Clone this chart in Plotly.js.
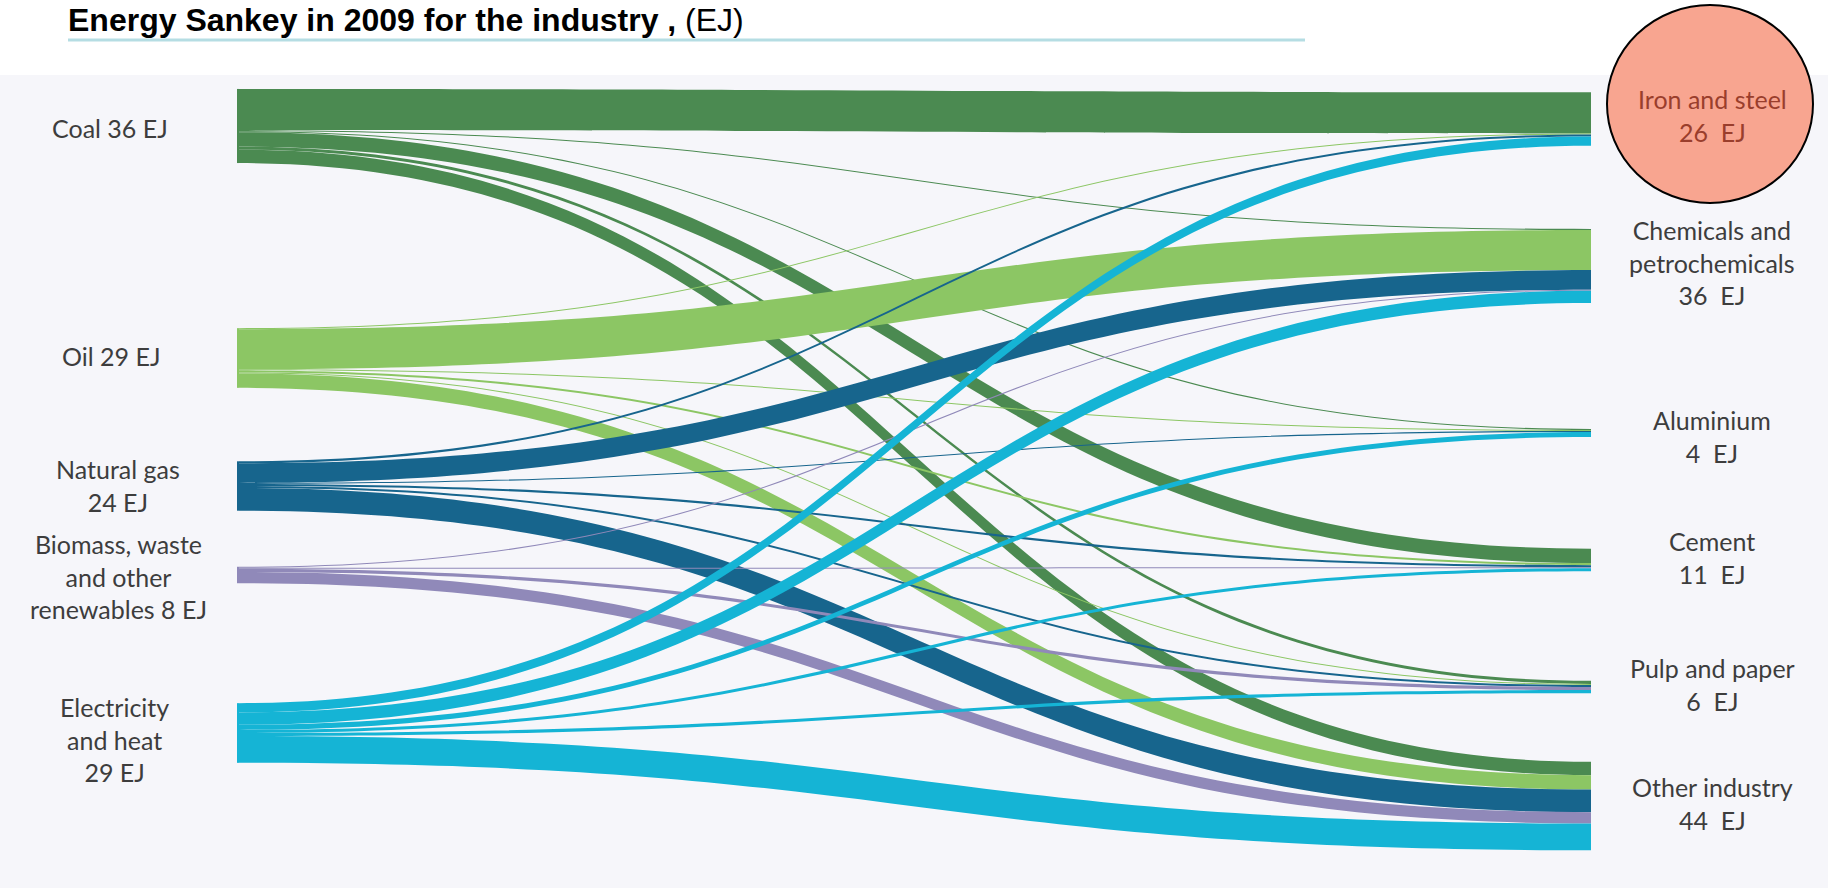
<!DOCTYPE html>
<html><head><meta charset="utf-8">
<script src="https://cdn.plot.ly/plotly-3.0.1.min.js"></script>
<style>html,body{margin:0;padding:0;background:#fff;}#chart{width:1828px;height:888px;}</style>
</head><body><div id="chart"></div>
<script>
// ---------- data ----------
const sources = ['Coal', 'Oil', 'Natural gas', 'Biomass, waste and other renewables', 'Electricity and heat'];
const sourceTotals = [36, 29, 24, 8, 29];
const sourceLabels = ['Coal 36 EJ', 'Oil 29 EJ', 'Natural gas<br>24 EJ', 'Biomass, waste<br>and other<br>renewables 8 EJ', 'Electricity<br>and heat<br>29 EJ'];
const targets = ['Iron and steel', 'Chemicals and petrochemicals', 'Aluminium', 'Cement', 'Pulp and paper', 'Other industry'];
const targetTotals = [26, 36, 4, 11, 6, 44];
const targetLabels = ['Iron and steel<br>26\u00a0 EJ', 'Chemicals and<br>petrochemicals<br>36\u00a0 EJ', 'Aluminium<br>4\u00a0 EJ', 'Cement<br>11\u00a0 EJ', 'Pulp and paper<br>6\u00a0 EJ', 'Other industry<br>44\u00a0 EJ'];
// flows (EJ) from each source to targets, in target order
const coalFlows        = [20, 0.5, 0.5, 7, 1.5, 6.5];
const oilFlows         = [0.5, 19.5, 0.5, 1, 0.5, 7];
const gasFlows         = [1, 9.5, 0.5, 1, 1, 11];
const biomassFlows     = [0, 0.5, 0, 0.5, 1.5, 5.5];
const electricityFlows = [4.5, 6, 2.5, 1.5, 1.5, 13];
const titleText = '<b>Energy Sankey in 2009 for the industry ,</b> (EJ)';

// ---------- styles / layout ----------
const sourceColors = ['#4b8a51', '#8cc664', '#17658d', '#9089b9', '#15b4d5'];
const W = 1828, H = 888;
const M = {l: 237, r: 235, t: 80, b: 30};
const PW = W - M.l - M.r, PH = H - M.t - M.b;
const px2x = p => (p - M.l) / PW;
const py2y = p => 1 - (p - M.t) / PH;
const nodeThick = 2;
const srcCenterPx = [126, 358, 486, 575, 733];
const tgtCenterPx = [119, 266, 433, 560, 687, 806];
const srcLabelPx = [[110, 128], [111, 356], [118, 485], [118, 576], [115, 739]];
const tgtLabelPx = [[1712, 115], [1712, 262], [1712, 436], [1712, 557], [1712, 684], [1712, 803]];

const flowRows = [coalFlows, oilFlows, gasFlows, biomassFlows, electricityFlows];
const linkSrc = [], linkTgt = [], linkVal = [], linkCol = [];
flowRows.forEach((row, i) => {
  row.forEach((v, j) => {
    if (v > 0) {
      linkSrc.push(i); linkTgt.push(sources.length + j); linkVal.push(v); linkCol.push(sourceColors[i]);
    }
  });
});

const nodeNames = sources.concat(targets);
const nodeX = sources.map(() => (nodeThick / 2) / PW).concat(targets.map(() => 1 - (nodeThick / 2) / PW));
const nodeY = srcCenterPx.concat(tgtCenterPx).map(c => (c - M.t) / PH);
const nodeColors = sourceColors.concat(targets.map(() => 'rgba(0,0,0,0)'));

const trace = {
  type: 'sankey',
  arrangement: 'fixed',
  domain: {x: [0, 1], y: [0, 1]},
  node: {
    label: nodeNames.map(() => ''),
    customdata: nodeNames,
    hovertemplate: '%{customdata}: %{value} EJ<extra></extra>',
    x: nodeX,
    y: nodeY,
    pad: 106,
    thickness: nodeThick,
    color: nodeColors,
    line: {width: 0}
  },
  link: {
    source: linkSrc,
    target: linkTgt,
    value: linkVal,
    color: linkCol,
    line: {width: 0}
  }
};

const labelFont = {family: 'Lato, sans-serif', size: 25, color: '#3d3d3d'};
const annotations = [];
sourceLabels.forEach((t, i) => annotations.push({
  text: t, xref: 'paper', yref: 'paper', x: px2x(srcLabelPx[i][0]), y: py2y(srcLabelPx[i][1]),
  xanchor: 'center', yanchor: 'middle', align: 'center', showarrow: false, font: labelFont
}));
targetLabels.forEach((t, i) => annotations.push({
  text: t, xref: 'paper', yref: 'paper', x: px2x(tgtLabelPx[i][0]), y: py2y(tgtLabelPx[i][1]),
  xanchor: 'center', yanchor: 'middle', align: 'center', showarrow: false,
  font: i === 0 ? Object.assign({}, labelFont, {color: '#9a3e2c'}) : labelFont
}));

const shapes = [
  {type: 'rect', xref: 'paper', yref: 'paper', x0: px2x(0), x1: px2x(W), y0: py2y(75), y1: py2y(H),
   fillcolor: '#f6f6fa', line: {width: 0}, layer: 'below'},
  {type: 'line', xref: 'paper', yref: 'paper', x0: px2x(68), x1: px2x(1305), y0: py2y(40), y1: py2y(40),
   line: {color: '#b5dde3', width: 3}},
  {type: 'circle', xref: 'paper', yref: 'paper', x0: px2x(1607), x1: px2x(1813), y0: py2y(5), y1: py2y(203),
   fillcolor: '#f8a590', line: {color: '#000', width: 2}, layer: 'above'}
];

const layout = {
  width: W, height: H,
  margin: M,
  paper_bgcolor: '#ffffff',
  title: {
    text: titleText,
    font: {family: 'Liberation Sans, Arial, sans-serif', size: 32, color: '#000'},
    xref: 'container', x: 68 / W, xanchor: 'left',
    yref: 'container', y: 1 - 20 / H, yanchor: 'middle'
  },
  shapes: shapes,
  annotations: annotations,
  showlegend: false
};

Plotly.newPlot('chart', [trace], layout, {displayModeBar: false, staticPlot: false});
</script>
</body></html>
